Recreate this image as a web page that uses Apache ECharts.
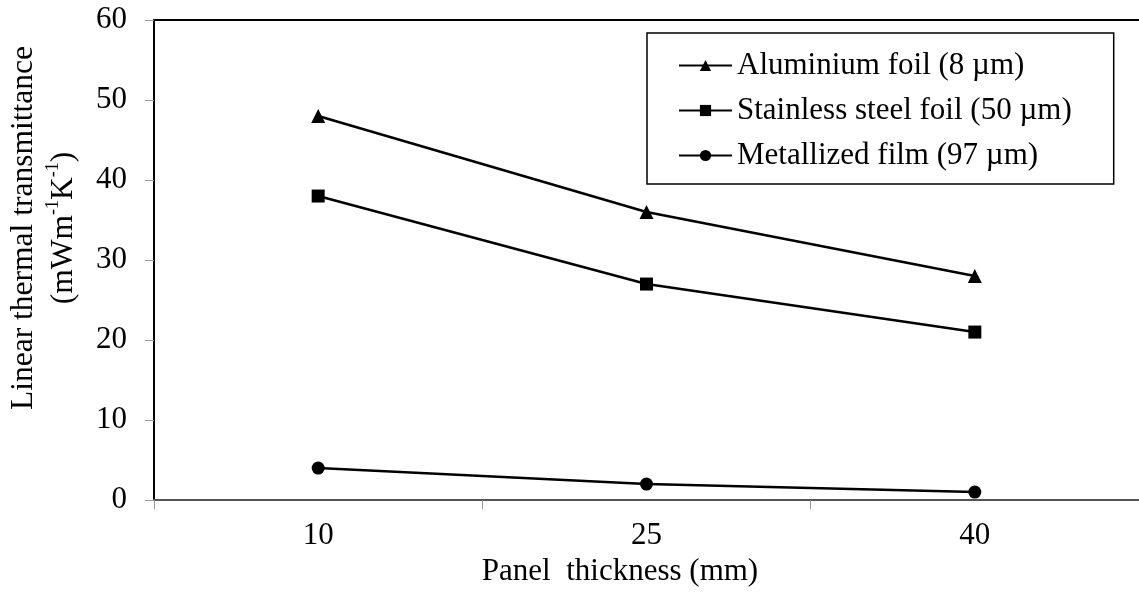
<!DOCTYPE html>
<html>
<head>
<meta charset="utf-8">
<script src="https://cdn.jsdelivr.net/npm/echarts@6/dist/echarts.min.js"></script>
<style>
html,body{margin:0;padding:0;background:#fff;}
#chart{width:1139px;height:592px;}
</style>
</head>
<body>
<div id="chart"></div>
<script>
const categories = ['10', '25', '40'];
const aluminium = [48, 36, 28];
const stainless = [38, 27, 21];
const metallized = [4, 2, 1];
const seriesNames = ['Aluminium foil (8 µm)', 'Stainless steel foil (50 µm)', 'Metallized film (97 µm)'];
const yTicks = { min: 0, max: 60, interval: 10 };

const FONT = '"Liberation Serif", "Times New Roman", serif';
const chart = echarts.init(document.getElementById('chart'));

function lineSeries(name, data, symbol, size) {
  return {
    name: name,
    type: 'line',
    data: data,
    symbol: symbol,
    symbolSize: size,
    showSymbol: true,
    lineStyle: { color: '#000', width: 2.5 },
    itemStyle: { color: '#000' },
    emphasis: { disabled: true },
    animation: false
  };
}

chart.setOption({
  animation: false,
  backgroundColor: '#fff',
  textStyle: { fontFamily: FONT, color: '#000' },
  grid: { left: 153, top: 20, width: 993, height: 488, containLabel: false },
  legend: {
    left: 647, top: 33,
    orient: 'vertical',
    backgroundColor: '#fff',
    borderColor: '#000', borderWidth: 1.5,
    padding: [17, 42, 13, 31],
    itemWidth: 53, itemHeight: 14, itemGap: 14,
    textStyle: { fontFamily: FONT, fontSize: 31, color: '#000', lineHeight: 31 },
    data: seriesNames
  },
  xAxis: [{
    type: 'category',
    data: categories,
    boundaryGap: true,
    position: 'bottom',
    axisLine: { show: true, lineStyle: { color: '#555', width: 2 } },
    axisTick: { show: true, inside: false, length: 9, alignWithLabel: false, lineStyle: { color: '#999', width: 1 } },
    axisLabel: { fontFamily: FONT, fontSize: 31, color: '#000', margin: 20 },
    splitLine: { show: false },
    name: 'Panel  thickness (mm)',
    nameLocation: 'middle',
    nameGap: 48,
    nameTextStyle: { fontFamily: FONT, fontSize: 31, color: '#000', padding: [0, 53, 0, 0] }
  }, {
    type: 'category',
    data: categories,
    position: 'top',
    axisLine: { show: true, lineStyle: { color: '#000', width: 2 } },
    axisTick: { show: false },
    axisLabel: { show: false },
    splitLine: { show: false }
  }],
  yAxis: {
    type: 'value',
    min: yTicks.min, max: yTicks.max, interval: yTicks.interval,
    axisLine: { show: true, lineStyle: { color: '#000', width: 2 } },
    axisTick: { show: true, inside: false, length: 9, lineStyle: { color: '#999', width: 1 } },
    axisLabel: { fontFamily: FONT, fontSize: 31, color: '#000', margin: 27 },
    splitLine: { show: false },
    name: '{a|Linear thermal transmittance}\n{a|(mWm}{s|-1}{a|K}{s|-1}{a|)}',
    nameLocation: 'middle',
    nameGap: 70,
    nameRotate: 90,
    nameTextStyle: {
      fontFamily: FONT, color: '#000',
      padding: [0, 0, 0, 64],
      rich: {
        a: { fontFamily: FONT, fontSize: 31.5, color: '#000', lineHeight: 40 },
        s: { fontFamily: FONT, fontSize: 18, color: '#000', lineHeight: 40, verticalAlign: 'top', padding: [0, 0, 14, 0] }
      }
    }
  },
  series: [
    lineSeries(seriesNames[0], aluminium, 'triangle', 14),
    lineSeries(seriesNames[1], stainless, 'rect', 13),
    lineSeries(seriesNames[2], metallized, 'circle', 13)
  ]
});
</script>
</body>
</html>
